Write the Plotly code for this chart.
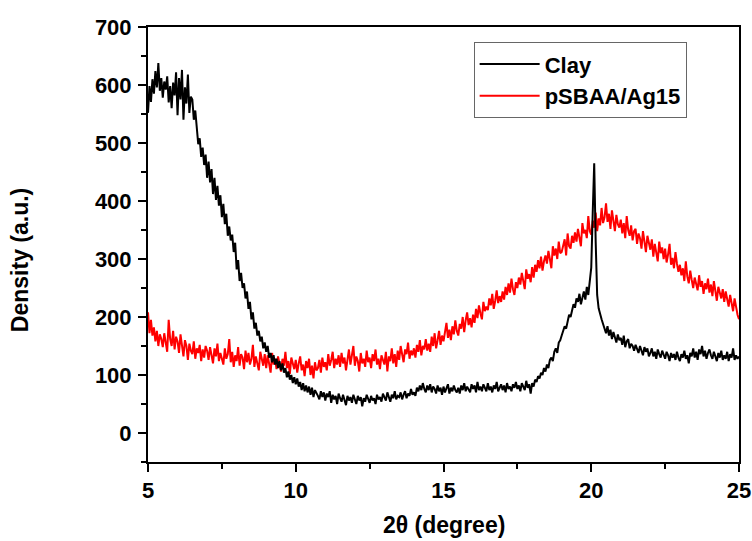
import numpy as np
import plotly.graph_objects as go

# 2-theta positions (degrees): 5.00 ... 25.00 in 0.05 steps
two_theta = np.round(5.0 + 0.05 * np.arange(401), 2)

clay = [
    552, 598, 571, 610, 585, 624, 596, 638, 590, 612,
    578, 606, 592, 615, 570, 598, 560, 604, 582, 622,
    548, 612, 575, 626, 540, 596, 568, 618, 552, 580,
    575, 540, 556, 520, 498, 508, 476, 492, 462, 480,
    440, 468, 432, 455, 412, 440, 402, 426, 392, 410,
    372, 395, 360, 378, 340, 356, 332, 342, 312, 328,
    282, 298, 262, 276, 250, 258, 232, 244, 214, 226,
    196, 208, 180, 190, 168, 176, 158, 166, 146, 156,
    140, 150, 130, 138, 122, 134, 118, 128, 112, 124,
    108, 120, 104, 112, 96, 106, 92, 100, 86, 96,
    84, 94, 80, 88, 74, 86, 72, 82, 70, 80,
    66, 78, 62, 74, 70, 64, 58, 72, 62, 70,
    56, 68, 62, 72, 52, 66, 58, 64, 50, 68,
    60, 54, 66, 58, 48, 64, 56, 62, 52, 66,
    58, 50, 64, 56, 62, 46, 60, 54, 66, 58,
    52, 64, 56, 60, 50, 66, 58, 62, 54, 68,
    60, 56, 70, 62, 54, 66, 60, 72, 58, 64,
    62, 70, 58, 66, 72, 60, 68, 64, 76, 66,
    70, 64, 78, 72, 82, 74, 86, 76, 70, 82,
    74, 84, 70, 80, 76, 68, 82, 72, 78, 66,
    80, 70, 76, 84, 68, 78, 72, 82, 74, 70,
    78, 68, 82, 74, 86, 72, 80, 76, 70, 84,
    76, 82, 70, 88, 74, 80, 72, 84, 78, 72,
    86, 74, 80, 70, 82, 76, 88, 72, 78, 84,
    74, 82, 70, 86, 76, 80, 72, 84, 78, 88,
    76, 82, 72, 86, 80, 74, 90, 78, 84, 68,
    86, 80, 92, 88, 98, 94, 104, 100, 112, 106,
    118, 112, 126, 130, 124, 140, 146, 138, 156, 160,
    168, 176, 184, 180, 196, 204, 200, 214, 222, 216,
    232, 226, 240, 222, 236, 244, 230, 252, 238, 262,
    285, 380, 465, 330, 238, 215, 204, 196, 188, 180,
    172, 184, 168, 178, 162, 174, 166, 156, 170, 160,
    164, 152, 168, 148, 158, 162, 146, 154, 150, 142,
    152, 144, 138, 150, 142, 134, 148, 140, 146, 132,
    138, 146, 132, 140, 128, 144, 136, 130, 142, 134,
    128, 140, 134, 124, 138, 130, 136, 126, 140, 130,
    124, 136, 130, 142, 128, 134, 120, 138, 132, 146,
    130, 140, 126, 144, 136, 150, 132, 142, 128, 138,
    144, 134, 128, 140, 132, 124, 138, 130, 142, 126,
    134, 128, 140, 124, 136, 130, 146, 126, 134, 128,
    132,
]

psbaa_ag15 = [
    208, 172, 195, 168, 182, 158, 176, 150, 170, 162,
    148, 172, 156, 140, 195, 162, 150, 176, 144, 166,
    158, 138, 170, 146, 132, 160, 150, 126, 154, 142,
    136, 158, 128, 146, 138, 152, 124, 144, 130, 150,
    142, 126, 148, 134, 120, 146, 132, 154, 124, 138,
    130, 118, 146, 128, 136, 162, 122, 140, 114, 134,
    124, 148, 116, 136, 130, 110, 142, 122, 138, 118,
    128, 152, 114, 132, 120, 108, 140, 126, 116, 136,
    112, 134, 122, 104, 138, 118, 128, 110, 132, 120,
    106, 128, 116, 140, 112, 124, 102, 130, 118, 110,
    126, 104, 120, 132, 108, 118, 98, 124, 112, 128,
    100, 116, 94, 122, 108, 112, 126, 104, 130, 114,
    122, 108, 136, 116, 126, 140, 112, 128, 118, 134,
    114, 138, 120, 130, 108, 126, 144, 118, 132, 150,
    116, 132, 124, 106, 138, 120, 128, 114, 142, 122,
    130, 112, 136, 124, 144, 118, 128, 110, 134, 126,
    118, 140, 106, 132, 124, 146, 120, 136, 114, 142,
    126, 150, 132, 122, 144, 136, 156, 128, 142, 134,
    146, 130, 152, 140, 160, 134, 150, 144, 162, 142,
    154, 140, 166, 150, 172, 146, 160, 176, 152, 168,
    158, 174, 190, 164, 178, 160, 184, 170, 194, 176,
    168, 188, 180, 200, 174, 194, 208, 186, 198, 182,
    204, 190, 214, 198, 220, 206, 196, 226, 210, 218,
    212, 232, 220, 240, 214, 228, 246, 224, 236, 226,
    244, 230, 252, 238, 258, 242, 266, 248, 238, 260,
    250, 268, 256, 276, 262, 248, 282, 266, 274, 260,
    286, 268, 290, 278, 298, 284, 304, 280, 296, 306,
    292, 314, 300, 284, 322, 306, 318, 300, 330, 310,
    312, 326, 334, 306, 344, 322, 318, 340, 328, 346,
    330, 352, 338, 322, 362, 344, 350, 336, 374, 348,
    342, 366, 354, 380, 348, 370, 358, 388, 362, 372,
    396, 364, 378, 352, 384, 366, 348, 376, 360, 354,
    368, 344, 362, 336, 374, 350, 340, 358, 332, 348,
    352, 326, 344, 336, 318, 348, 330, 312, 340, 324,
    316, 334, 304, 326, 312, 296, 330, 310, 320, 300,
    318, 294, 308, 326, 290, 302, 284, 312, 292, 278,
    290, 272, 284, 262, 296, 270, 258, 280, 264, 250,
    268, 256, 246, 272, 252, 262, 240, 258, 248, 266,
    242, 256, 236, 262, 240, 228, 252, 244, 232, 248,
    226, 244, 230, 218, 238, 222, 210, 232, 214, 204,
    196,
]

series_names = ["Clay", "pSBAA/Ag15"]
x_tick_vals = [5, 10, 15, 20, 25]
y_tick_vals = [0, 100, 200, 300, 400, 500, 600, 700]

FONT = "Liberation Sans, Arial, sans-serif"

fig = go.Figure()
fig.add_trace(go.Scatter(
    x=two_theta, y=psbaa_ag15, mode="lines", name=series_names[1],
    line=dict(color="#ff0000", width=2),
))
fig.add_trace(go.Scatter(
    x=two_theta, y=clay, mode="lines", name=series_names[0],
    line=dict(color="#000000", width=2),
))

axis_common = dict(
    showline=True, linecolor="black", linewidth=2, mirror=True,
    ticks="outside", ticklen=8, tickwidth=2, tickcolor="black",
    showgrid=False, zeroline=False, automargin=False,
    tickfont=dict(family=FONT, size=22, color="black", weight="bold"),
)

fig.update_xaxes(
    range=[5, 25], tickvals=x_tick_vals,
    minor=dict(ticks="outside", ticklen=5, tickwidth=2, tickcolor="black", dtick=2.5, tick0=5),
    **axis_common,
)
fig.update_yaxes(
    range=[-50, 700], tickvals=y_tick_vals, ticklabelstandoff=2,
    minor=dict(ticks="outside", ticklen=5, tickwidth=2, tickcolor="black", dtick=50, tick0=0),
    **axis_common,
)

fig.update_layout(
    width=752, height=541, autosize=False,
    margin=dict(l=148, r=13, t=27, b=79, autoexpand=False),
    paper_bgcolor="white", plot_bgcolor="white",
    showlegend=True,
    legend=dict(
        x=0.551, y=0.965, xanchor="left", yanchor="top",
        bordercolor="#666666", borderwidth=1, bgcolor="white",
        traceorder="reversed", itemwidth=60,
        font=dict(family=FONT, size=22, color="black", weight="bold"),
    ),
    annotations=[
        dict(text="2θ (degree)", xref="paper", yref="paper", x=0.5, y=-0.145,
             xanchor="center", yanchor="middle", showarrow=False,
             font=dict(family=FONT, size=23, color="black", weight="bold")),
        dict(text="Density (a.u.)", xref="paper", yref="paper", x=-0.2166, y=0.464,
             xanchor="center", yanchor="middle", showarrow=False, textangle=-90,
             font=dict(family=FONT, size=23, color="black", weight="bold")),
    ],
)

fig.write_html(
    "out.html",
    config={"displayModeBar": False, "responsive": False},
    post_script="document.body.style.margin='0';document.body.style.overflow='hidden';",
)
